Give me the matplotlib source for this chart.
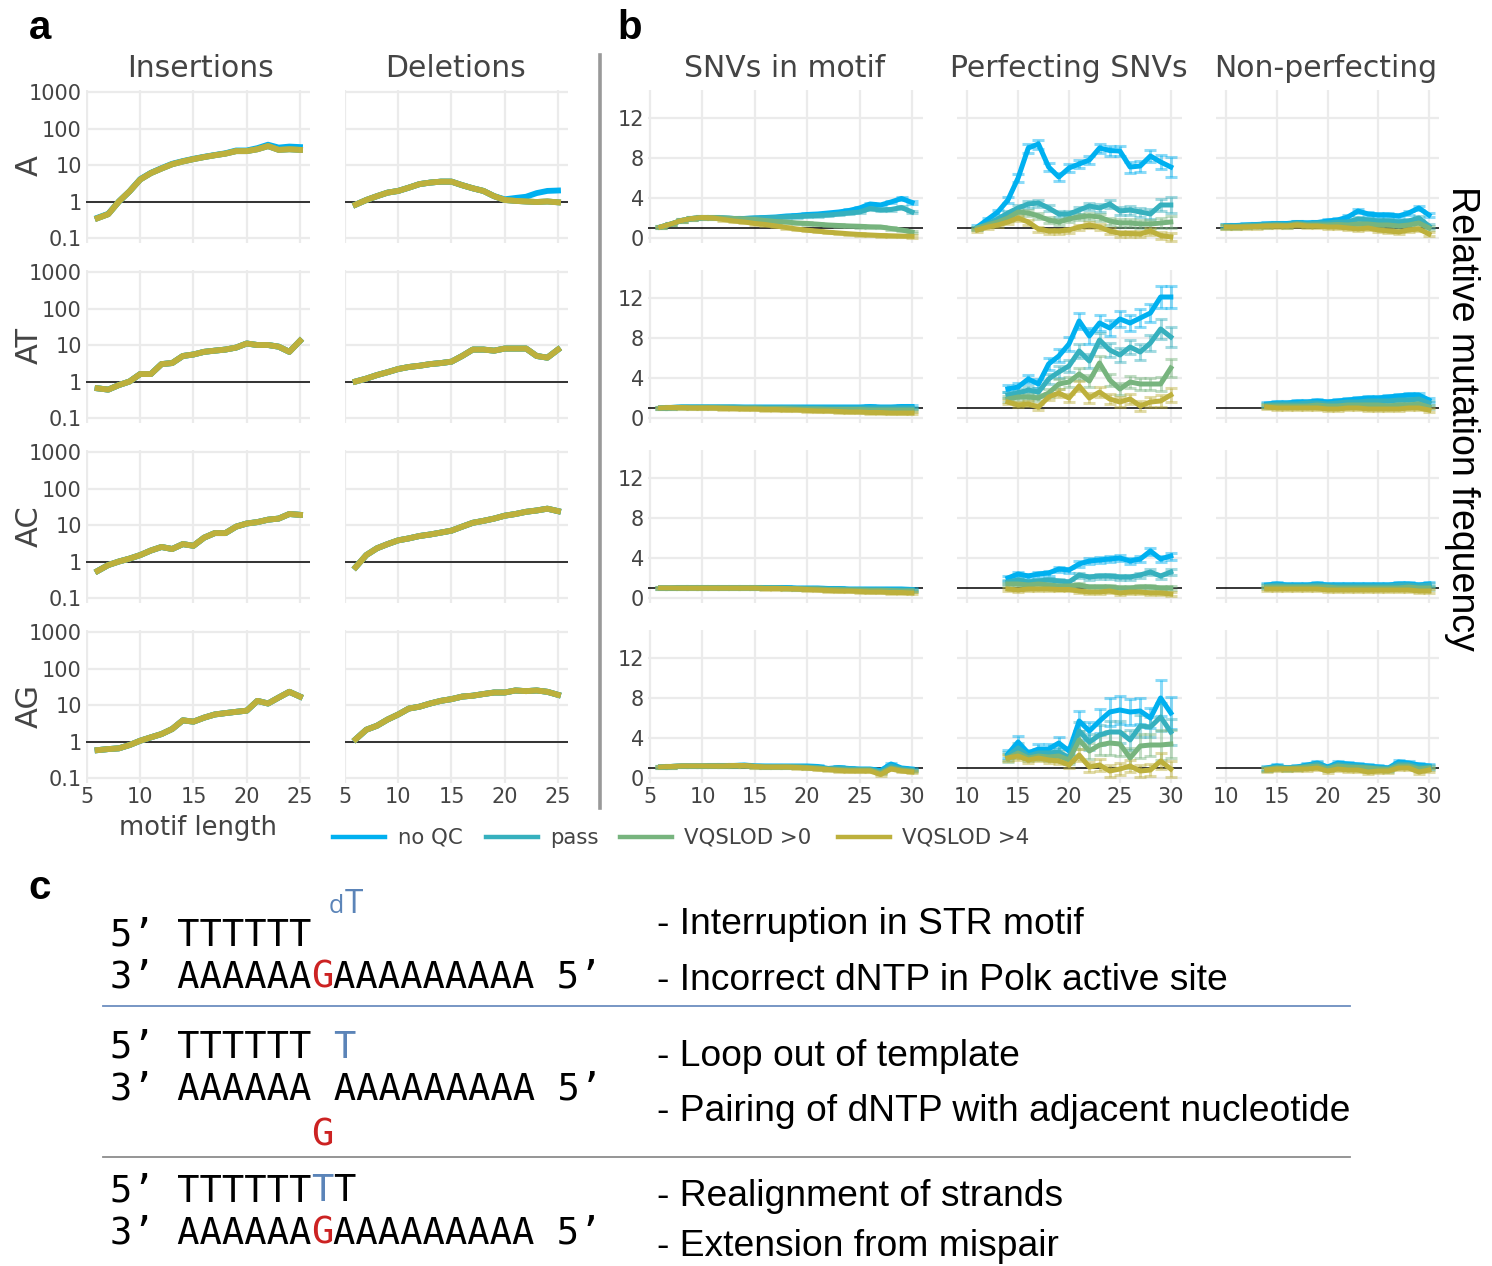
import matplotlib
matplotlib.use("Agg")
import matplotlib.pyplot as plt
from matplotlib.lines import Line2D
from matplotlib.ticker import NullLocator

W, H = 1492, 1266

# ---------------- panel a data (relative frequency, log) ----------------
x_a = list(range(6, 26))
ins_A = [0.35, 0.45, 1.0, 1.9, 4.0, 6.0, 8.0, 10.5, 12.5, 14.5, 16.5, 18.5, 20.5, 24, 24, 27, 33, 26, 27, 26]
ins_A_noqc = [0.36, 0.46, 1.0, 1.9, 4.1, 6.1, 8.2, 10.8, 12.8, 14.8, 16.8, 18.8, 21, 25, 25, 29, 36, 30, 32, 31]
del_A = [0.82, 1.1, 1.4, 1.75, 1.95, 2.4, 3.0, 3.3, 3.5, 3.5, 2.8, 2.3, 1.95, 1.4, 1.1, 1.04, 1.0, 0.97, 1.0, 0.95]
del_A_noqc = [0.82, 1.1, 1.4, 1.75, 1.95, 2.4, 3.0, 3.3, 3.5, 3.5, 2.8, 2.3, 1.95, 1.4, 1.15, 1.25, 1.35, 1.7, 1.95, 2.0]
ins_AT = [0.65, 0.6, 0.8, 1.0, 1.6, 1.6, 3.0, 3.2, 5.0, 5.5, 6.5, 7.0, 7.5, 8.5, 11, 10, 10, 9, 6.5, 13]
del_AT = [1.0, 1.2, 1.5, 1.8, 2.2, 2.5, 2.7, 3.0, 3.2, 3.5, 5.0, 7.5, 7.5, 7.0, 8.0, 8.0, 8.0, 5.0, 4.5, 7.5]
ins_AC = [0.55, 0.8, 1.0, 1.2, 1.5, 2.0, 2.5, 2.2, 3.0, 2.7, 4.5, 6.0, 6.0, 9.0, 11, 12, 14, 15, 20, 19]
del_AC = [0.7, 1.5, 2.3, 3.0, 3.8, 4.3, 5.0, 5.5, 6.2, 7.0, 9.0, 11.5, 13, 15, 18, 20, 23, 25, 28, 24]
ins_AG = [0.58, 0.62, 0.65, 0.8, 1.05, 1.3, 1.6, 2.2, 3.8, 3.5, 4.5, 5.5, 6.0, 6.5, 7.0, 13, 11, 16, 23, 17]
del_AG = [1.15, 2.1, 2.7, 4.0, 5.5, 8.0, 9.0, 11, 13, 14.5, 17, 18, 20, 22, 22, 25, 24, 25, 23, 19]

# ---------------- panel b data ----------------
x_snv = list(range(6, 31))
snv_A_noqc = [1.1, 1.4, 1.75, 1.95, 2.05, 2.05, 2.0, 1.95, 1.95, 2.0, 2.05, 2.1, 2.2, 2.25, 2.35, 2.4, 2.5, 2.6, 2.75, 3.0, 3.4, 3.3, 3.6, 3.95, 3.55]
snv_A_pass = [1.1, 1.4, 1.75, 1.95, 2.05, 2.05, 2.0, 1.95, 1.95, 2.0, 2.0, 2.05, 2.1, 2.15, 2.2, 2.25, 2.3, 2.4, 2.5, 2.6, 2.95, 2.8, 2.85, 3.05, 2.6]
snv_A_vq0 = [1.1, 1.4, 1.75, 1.95, 2.05, 2.05, 2.0, 1.95, 1.9, 1.85, 1.75, 1.65, 1.6, 1.5, 1.45, 1.38, 1.3, 1.25, 1.2, 1.17, 1.12, 1.1, 0.95, 0.8, 0.6]
snv_A_vq4 = [1.1, 1.4, 1.75, 1.95, 2.05, 2.0, 1.85, 1.7, 1.6, 1.45, 1.35, 1.2, 1.05, 0.9, 0.78, 0.68, 0.58, 0.5, 0.42, 0.35, 0.3, 0.25, 0.22, 0.19, 0.17]
snv_AT_noqc = [1.0, 1.05, 1.1, 1.1, 1.1, 1.1, 1.1, 1.1, 1.1, 1.1, 1.1, 1.1, 1.1, 1.1, 1.1, 1.1, 1.1, 1.1, 1.1, 1.1, 1.15, 1.1, 1.1, 1.15, 1.15]
snv_AT_pass = [1.0, 1.05, 1.1, 1.1, 1.1, 1.1, 1.1, 1.1, 1.05, 1.05, 1.05, 1.05, 1.05, 1.05, 1.0, 1.0, 1.0, 1.0, 1.0, 1.0, 1.0, 1.0, 1.0, 1.0, 1.0]
snv_AT_vq0 = [1.0, 1.05, 1.05, 1.05, 1.05, 1.05, 1.05, 1.0, 1.0, 1.0, 0.95, 0.95, 0.95, 0.9, 0.9, 0.9, 0.85, 0.85, 0.85, 0.85, 0.8, 0.8, 0.8, 0.8, 0.8]
snv_AT_vq4 = [1.0, 1.05, 1.05, 1.0, 1.0, 1.0, 0.95, 0.95, 0.9, 0.9, 0.85, 0.85, 0.8, 0.8, 0.75, 0.7, 0.7, 0.65, 0.6, 0.6, 0.55, 0.55, 0.5, 0.5, 0.5]
snv_AC_noqc = [1.0, 1.0, 1.05, 1.05, 1.05, 1.05, 1.05, 1.05, 1.05, 1.05, 1.05, 1.05, 1.05, 1.0, 1.0, 1.0, 0.95, 0.95, 0.9, 0.9, 0.9, 0.9, 0.9, 0.9, 0.85]
snv_AC_pass = [1.0, 1.0, 1.05, 1.05, 1.05, 1.05, 1.05, 1.05, 1.05, 1.05, 1.0, 1.0, 1.0, 0.95, 0.95, 0.95, 0.9, 0.9, 0.85, 0.85, 0.85, 0.85, 0.8, 0.8, 0.8]
snv_AC_vq0 = [1.0, 1.0, 1.0, 1.0, 1.0, 1.0, 1.0, 1.0, 1.0, 1.0, 1.0, 1.0, 0.95, 0.95, 0.9, 0.9, 0.85, 0.85, 0.8, 0.8, 0.75, 0.75, 0.75, 0.7, 0.7]
snv_AC_vq4 = [1.0, 1.0, 1.0, 1.0, 1.0, 1.0, 1.0, 1.0, 1.0, 1.0, 0.95, 0.95, 0.95, 0.9, 0.85, 0.8, 0.75, 0.7, 0.7, 0.65, 0.6, 0.6, 0.55, 0.55, 0.5]
snv_AG_noqc = [1.1, 1.15, 1.2, 1.2, 1.2, 1.25, 1.25, 1.25, 1.3, 1.2, 1.2, 1.2, 1.2, 1.2, 1.2, 1.15, 0.95, 1.05, 0.95, 0.9, 0.9, 0.75, 1.4, 1.0, 0.9]
snv_AG_pass = [1.1, 1.15, 1.2, 1.2, 1.2, 1.25, 1.25, 1.25, 1.25, 1.2, 1.15, 1.15, 1.15, 1.15, 1.1, 1.05, 0.9, 1.0, 0.9, 0.85, 0.85, 0.6, 1.2, 0.9, 0.8]
snv_AG_vq0 = [1.1, 1.15, 1.2, 1.2, 1.2, 1.2, 1.2, 1.25, 1.25, 1.15, 1.1, 1.1, 1.1, 1.1, 1.05, 1.0, 0.9, 0.85, 0.8, 0.8, 0.8, 0.5, 1.0, 0.8, 0.7]
snv_AG_vq4 = [1.1, 1.15, 1.2, 1.2, 1.2, 1.2, 1.2, 1.25, 1.25, 1.15, 1.1, 1.1, 1.1, 1.05, 1.0, 0.9, 0.85, 0.75, 0.7, 0.7, 0.7, 0.35, 0.9, 0.7, 0.6]

x_perf_A = list(range(11, 31))
perf_A_noqc = [1.1, 1.85, 2.6, 3.8, 6.0, 9.0, 9.4, 7.1, 6.1, 7.0, 7.4, 7.8, 9.0, 8.75, 8.7, 7.1, 7.2, 8.2, 7.6, 7.1]
perf_A_pass = [1.0, 1.4, 1.9, 2.5, 3.0, 3.4, 3.5, 3.0, 2.4, 2.4, 2.8, 3.2, 3.0, 3.4, 2.7, 2.8, 2.6, 2.4, 3.3, 3.3]
perf_A_vq0 = [1.0, 1.3, 1.6, 2.0, 2.6, 2.5, 2.2, 1.8, 1.6, 1.9, 2.1, 2.2, 2.1, 1.7, 1.5, 1.5, 1.4, 1.4, 1.5, 1.6]
perf_A_vq4 = [0.8, 1.1, 1.3, 1.6, 2.0, 1.6, 0.9, 0.7, 0.7, 0.8, 1.1, 1.3, 1.1, 0.7, 0.45, 0.45, 0.4, 0.7, 0.25, 0.1]
perf_A_noqc_err = [0.2, 0.2, 0.25, 0.3, 0.4, 0.45, 0.45, 0.4, 0.4, 0.4, 0.4, 0.4, 0.45, 0.5, 0.5, 0.55, 0.55, 0.6, 0.7, 1.0]
perf_A_pass_err = [0.15, 0.2, 0.2, 0.25, 0.3, 0.35, 0.35, 0.3, 0.3, 0.3, 0.35, 0.35, 0.4, 0.4, 0.4, 0.45, 0.45, 0.5, 0.6, 0.8]
perf_A_vq0_err = [0.15, 0.2, 0.2, 0.25, 0.3, 0.3, 0.3, 0.3, 0.3, 0.3, 0.3, 0.35, 0.35, 0.35, 0.4, 0.4, 0.4, 0.45, 0.5, 0.6]
perf_A_vq4_err = [0.15, 0.15, 0.2, 0.2, 0.25, 0.25, 0.25, 0.25, 0.25, 0.25, 0.25, 0.3, 0.3, 0.3, 0.3, 0.3, 0.3, 0.35, 0.35, 0.4]

x_perf = list(range(14, 31))
perf_AT_noqc = [2.9, 3.1, 3.9, 3.4, 5.4, 6.2, 7.4, 9.7, 8.2, 9.5, 9.0, 9.9, 9.5, 10.0, 10.5, 12.1, 12.1]
perf_AT_pass = [2.3, 2.5, 2.8, 2.6, 3.9, 4.6, 5.2, 6.7, 5.7, 7.8, 6.8, 6.3, 7.1, 6.6, 7.5, 8.9, 8.1]
perf_AT_vq0 = [1.9, 2.1, 2.1, 2.0, 2.5, 3.4, 3.6, 4.4, 3.7, 5.5, 3.8, 2.9, 3.6, 3.4, 3.4, 3.4, 5.0]
perf_AT_vq4 = [1.6, 1.3, 1.4, 1.1, 2.1, 2.5, 2.0, 3.2, 2.0, 2.6, 1.9, 1.6, 1.9, 1.2, 1.6, 1.7, 2.3]
perf_AT_noqc_err = [0.35, 0.4, 0.4, 0.45, 0.6, 0.65, 0.7, 0.8, 0.8, 0.8, 0.8, 0.8, 0.8, 0.9, 0.9, 1.1, 1.1]
perf_AT_pass_err = [0.3, 0.35, 0.35, 0.4, 0.5, 0.6, 0.6, 0.7, 0.7, 0.7, 0.7, 0.7, 0.7, 0.8, 0.8, 1.0, 1.0]
perf_AT_vq0_err = [0.3, 0.3, 0.3, 0.35, 0.4, 0.5, 0.5, 0.6, 0.6, 0.7, 0.6, 0.6, 0.6, 0.6, 0.6, 0.7, 0.9]
perf_AT_vq4_err = [0.25, 0.25, 0.25, 0.3, 0.35, 0.4, 0.4, 0.5, 0.5, 0.5, 0.5, 0.5, 0.5, 0.5, 0.5, 0.6, 0.7]

perf_AC_noqc = [2.0, 2.4, 2.2, 2.4, 2.5, 2.9, 2.8, 3.4, 3.7, 3.8, 3.9, 4.0, 3.7, 3.9, 4.7, 3.9, 4.2]
perf_AC_pass = [1.6, 1.8, 1.6, 1.7, 1.8, 1.7, 1.6, 2.3, 2.1, 2.2, 2.2, 2.1, 2.1, 2.3, 2.6, 2.2, 2.6]
perf_AC_vq0 = [1.4, 1.4, 1.3, 1.4, 1.3, 1.2, 1.2, 1.3, 1.1, 1.1, 1.1, 1.0, 1.0, 1.1, 1.1, 1.0, 1.0]
perf_AC_vq4 = [0.9, 0.8, 0.9, 0.9, 0.9, 0.85, 0.85, 0.7, 0.6, 0.6, 0.7, 0.5, 0.6, 0.6, 0.5, 0.5, 0.4]
perf_AC_noqc_err = [0.25, 0.25, 0.25, 0.25, 0.25, 0.25, 0.25, 0.3, 0.3, 0.3, 0.3, 0.3, 0.3, 0.3, 0.35, 0.3, 0.35]
perf_AC_pass_err = [0.2, 0.2, 0.2, 0.2, 0.2, 0.2, 0.2, 0.25, 0.25, 0.25, 0.25, 0.25, 0.25, 0.25, 0.3, 0.25, 0.3]
perf_AC_vq0_err = [0.15, 0.15, 0.15, 0.15, 0.15, 0.15, 0.15, 0.2, 0.2, 0.2, 0.2, 0.2, 0.2, 0.2, 0.2, 0.2, 0.2]
perf_AC_vq4_err = [0.15, 0.15, 0.15, 0.15, 0.15, 0.15, 0.15, 0.15, 0.15, 0.15, 0.15, 0.15, 0.15, 0.15, 0.2, 0.2, 0.2]

perf_AG_noqc = [2.4, 3.6, 2.5, 2.9, 2.9, 3.5, 2.7, 5.7, 4.7, 5.7, 6.6, 6.8, 6.6, 6.7, 6.0, 8.0, 6.5]
perf_AG_pass = [2.2, 3.0, 2.2, 2.5, 2.5, 2.6, 2.0, 4.7, 3.6, 4.3, 4.6, 4.6, 3.8, 5.2, 5.1, 6.1, 4.6]
perf_AG_vq0 = [2.0, 2.5, 2.0, 2.2, 2.1, 2.2, 1.8, 3.8, 2.7, 3.3, 3.5, 3.4, 2.0, 3.2, 3.3, 3.3, 3.4]
perf_AG_vq4 = [2.0, 2.2, 1.8, 2.0, 1.8, 1.7, 1.3, 2.3, 1.1, 1.3, 0.7, 0.9, 1.2, 0.7, 0.8, 1.7, 0.9]
perf_AG_noqc_err = [0.4, 0.6, 0.3, 0.5, 0.5, 0.6, 0.4, 1.0, 0.9, 1.2, 1.4, 1.4, 1.3, 1.3, 1.0, 1.8, 1.6]
perf_AG_pass_err = [0.4, 0.5, 0.3, 0.4, 0.4, 0.5, 0.4, 0.9, 0.8, 1.0, 1.1, 1.1, 1.0, 1.1, 1.0, 1.4, 1.3]
perf_AG_vq0_err = [0.4, 0.5, 0.3, 0.4, 0.4, 0.5, 0.4, 0.9, 0.8, 1.0, 1.2, 1.2, 1.0, 1.2, 1.1, 1.5, 1.4]
perf_AG_vq4_err = [0.3, 0.4, 0.3, 0.3, 0.3, 0.3, 0.3, 0.6, 0.5, 0.6, 0.6, 0.6, 0.6, 0.6, 0.6, 0.8, 0.8]

x_non_A = list(range(10, 31))
non_A_noqc = [1.2, 1.25, 1.3, 1.35, 1.4, 1.45, 1.45, 1.55, 1.5, 1.55, 1.7, 1.8, 2.1, 2.7, 2.4, 2.3, 2.3, 2.2, 2.5, 3.0, 2.3]
non_A_pass = [1.2, 1.2, 1.25, 1.3, 1.35, 1.4, 1.35, 1.5, 1.4, 1.5, 1.5, 1.6, 1.6, 1.9, 1.8, 1.7, 1.7, 1.6, 1.7, 2.0, 1.2]
non_A_vq0 = [1.1, 1.1, 1.2, 1.2, 1.25, 1.3, 1.25, 1.4, 1.3, 1.3, 1.3, 1.35, 1.3, 1.4, 1.4, 1.3, 1.3, 1.2, 1.3, 1.5, 1.0]
non_A_vq4 = [1.1, 1.1, 1.1, 1.15, 1.2, 1.2, 1.2, 1.3, 1.2, 1.2, 1.1, 1.1, 1.0, 0.9, 1.0, 0.8, 0.7, 0.6, 0.8, 0.9, 0.4]
non_AT_noqc = [1.4, 1.5, 1.5, 1.6, 1.6, 1.7, 1.6, 1.7, 1.8, 1.9, 2.0, 2.0, 2.1, 2.2, 2.3, 2.3, 1.8]
non_AT_pass = [1.3, 1.4, 1.4, 1.4, 1.5, 1.5, 1.4, 1.5, 1.6, 1.6, 1.7, 1.7, 1.7, 1.8, 1.8, 1.9, 1.5]
non_AT_vq0 = [1.2, 1.2, 1.2, 1.2, 1.2, 1.3, 1.2, 1.2, 1.3, 1.3, 1.3, 1.3, 1.2, 1.3, 1.3, 1.4, 1.1]
non_AT_vq4 = [1.1, 1.0, 1.0, 1.0, 1.0, 1.0, 0.9, 0.9, 1.0, 1.0, 0.9, 0.9, 0.9, 0.9, 1.0, 1.0, 0.8]
non_AC_noqc = [1.3, 1.4, 1.3, 1.3, 1.3, 1.4, 1.3, 1.3, 1.3, 1.3, 1.3, 1.3, 1.3, 1.4, 1.4, 1.3, 1.4]
non_AC_pass = [1.2, 1.3, 1.2, 1.2, 1.2, 1.3, 1.2, 1.2, 1.2, 1.2, 1.2, 1.2, 1.2, 1.3, 1.3, 1.2, 1.3]
non_AC_vq0 = [1.1, 1.1, 1.1, 1.1, 1.1, 1.1, 1.1, 1.0, 1.0, 1.0, 1.0, 1.0, 1.0, 1.0, 1.1, 1.0, 1.0]
non_AC_vq4 = [0.9, 0.9, 0.9, 0.9, 0.9, 0.9, 0.8, 0.8, 0.8, 0.8, 0.8, 0.8, 0.8, 0.8, 0.8, 0.7, 0.7]
non_AG_noqc = [1.0, 1.2, 1.0, 1.1, 1.3, 1.5, 1.1, 1.5, 1.4, 1.3, 1.2, 1.1, 1.0, 1.6, 1.5, 1.3, 1.2]
non_AG_pass = [0.95, 1.1, 1.0, 1.05, 1.2, 1.4, 1.0, 1.35, 1.25, 1.2, 1.1, 1.0, 0.95, 1.4, 1.35, 1.1, 1.1]
non_AG_vq0 = [0.9, 1.0, 0.95, 1.0, 1.1, 1.2, 0.9, 1.2, 1.1, 1.05, 1.0, 0.9, 0.85, 1.2, 1.2, 0.9, 1.0]
non_AG_vq4 = [0.8, 0.9, 0.9, 0.9, 0.9, 1.0, 0.7, 0.9, 0.8, 0.8, 0.6, 0.7, 0.7, 1.0, 1.0, 0.6, 0.8]

series_names = ["no QC", "pass", "VQSLOD >0", "VQSLOD >4"]
colors = ["#00B0F0", "#36B0BE", "#77B47E", "#BDB03C"]
row_labels = ["A", "AT", "AC", "AG"]

FONT = "DejaVu Sans"
GRID = "#ebebeb"
TXT = "#444444"

fig = plt.figure(figsize=(W / 100, H / 100), dpi=100)


def add_ax(x0, x1, y0, y1):
    return fig.add_axes([x0 / W, 1 - y1 / H, (x1 - x0) / W, (y1 - y0) / H])


def style(ax, xlim, ylim, xt, yt, show_x, show_y, log=False):
    for s in ax.spines.values():
        s.set_visible(False)
    if log:
        ax.set_yscale("log")
        ax.yaxis.set_minor_locator(NullLocator())
    ax.set_xlim(*xlim)
    ax.set_ylim(*ylim)
    ax.set_xticks(xt)
    ax.set_yticks(yt)
    ax.set_xticklabels([str(v) for v in xt] if show_x else [])
    ax.set_yticklabels([("%g" % v) for v in yt] if show_y else [])
    ax.grid(True, color=GRID, lw=1.6)
    ax.set_axisbelow(True)
    ax.tick_params(length=0, labelsize=15, labelcolor=TXT, pad=3)
    for lab in ax.get_xticklabels() + ax.get_yticklabels():
        lab.set_family(FONT)
    ax.axhline(1, color="black", lw=1.1, zorder=2)


row_top = [90, 270, 450, 630]
row_h = 153

# ---------------- panel a ----------------
a_cols = [(86, 310), (345, 568)]
a_xlim = [(4.91, 25.94), (5.0, 25.94)]
log_lim = (10 ** -1.137, 10 ** 3.055)
ins_rows = [(ins_A, ins_A_noqc), (ins_AT, ins_AT), (ins_AC, ins_AC), (ins_AG, ins_AG)]
del_rows = [(del_A, del_A_noqc), (del_AT, del_AT), (del_AC, del_AC), (del_AG, del_AG)]

for r in range(4):
    for c in range(2):
        ax = add_ax(a_cols[c][0], a_cols[c][1], row_top[r], row_top[r] + row_h)
        style(ax, a_xlim[c], log_lim, [5, 10, 15, 20, 25], [0.1, 1, 10, 100, 1000],
              r == 3, c == 0, log=True)
        vals, vals_noqc = (ins_rows if c == 0 else del_rows)[r]
        for k in range(4):
            y = vals_noqc if k == 0 else vals
            ax.plot(x_a, y, color=colors[k], lw=4.2, solid_joinstyle="round",
                    solid_capstyle="projecting", zorder=3 + k)

# ---------------- panel b ----------------
b_cols = [(648, 923), (957, 1182), (1216, 1439)]
b_xlim = [(4.8, 31.05), (9.0, 31.1), (9.0, 30.99)]
b_xt = [[5, 10, 15, 20, 25, 30], [10, 15, 20, 25, 30], [10, 15, 20, 25, 30]]
lin_lim = (-0.5, 14.8)

snv_rows = [
    [snv_A_noqc, snv_A_pass, snv_A_vq0, snv_A_vq4],
    [snv_AT_noqc, snv_AT_pass, snv_AT_vq0, snv_AT_vq4],
    [snv_AC_noqc, snv_AC_pass, snv_AC_vq0, snv_AC_vq4],
    [snv_AG_noqc, snv_AG_pass, snv_AG_vq0, snv_AG_vq4],
]
perf_rows = [
    (x_perf_A, [perf_A_noqc, perf_A_pass, perf_A_vq0, perf_A_vq4],
     [perf_A_noqc_err, perf_A_pass_err, perf_A_vq0_err, perf_A_vq4_err]),
    (x_perf, [perf_AT_noqc, perf_AT_pass, perf_AT_vq0, perf_AT_vq4],
     [perf_AT_noqc_err, perf_AT_pass_err, perf_AT_vq0_err, perf_AT_vq4_err]),
    (x_perf, [perf_AC_noqc, perf_AC_pass, perf_AC_vq0, perf_AC_vq4],
     [perf_AC_noqc_err, perf_AC_pass_err, perf_AC_vq0_err, perf_AC_vq4_err]),
    (x_perf, [perf_AG_noqc, perf_AG_pass, perf_AG_vq0, perf_AG_vq4],
     [perf_AG_noqc_err, perf_AG_pass_err, perf_AG_vq0_err, perf_AG_vq4_err]),
]
non_rows = [
    (x_non_A, [non_A_noqc, non_A_pass, non_A_vq0, non_A_vq4]),
    (x_perf, [non_AT_noqc, non_AT_pass, non_AT_vq0, non_AT_vq4]),
    (x_perf, [non_AC_noqc, non_AC_pass, non_AC_vq0, non_AC_vq4]),
    (x_perf, [non_AG_noqc, non_AG_pass, non_AG_vq0, non_AG_vq4]),
]


def draw_series(ax, x, ys, errs):
    for k in range(4):
        ax.errorbar(x, ys[k], yerr=errs[k], fmt="none", ecolor=colors[k], elinewidth=2.2,
                    capsize=4.5, capthick=2.2, alpha=0.45, zorder=3 + k)
        ax.plot(x, ys[k], color=colors[k], lw=3.6, solid_joinstyle="round", zorder=7 + k)


for r in range(4):
    for c in range(3):
        ax = add_ax(b_cols[c][0], b_cols[c][1], row_top[r], row_top[r] + row_h)
        style(ax, b_xlim[c], lin_lim, b_xt[c], [0, 4, 8, 12], r == 3, c == 0)
        if c == 0:
            draw_series(ax, x_snv, snv_rows[r], [0.12] * 4)
        elif c == 1:
            x, ys, es = perf_rows[r]
            draw_series(ax, x, ys, es)
        else:
            x, ys = non_rows[r]
            draw_series(ax, x, ys, [0.2] * 4)

# ---------------- titles and labels ----------------
col_titles = [("Insertions", 200), ("Deletions", 456), ("SNVs in motif", 785),
              ("Perfecting SNVs", 1069), ("Non-perfecting", 1326)]
for t, xc in col_titles:
    fig.text(xc / W, 1 - 77 / H, t, ha="center", va="baseline", fontsize=21.5,
             color=TXT, family=FONT)

row_centers = [166, 346, 526, 706]
for lab, yc in zip(row_labels, row_centers):
    fig.text(29 / W, 1 - yc / H, lab, ha="center", va="center", rotation=90,
             fontsize=22, color=TXT, family=FONT)

fig.text(198 / W, 1 - 828 / H, "motif length", ha="center", va="center",
         fontsize=18.5, color=TXT, family=FONT)

fig.text(1462 / W, 1 - 418 / H, "Relative mutation frequency", ha="center",
         va="center", rotation=-90, fontsize=27, color="black",
         family="Liberation Sans")

for lab, x, y in [("a", 40, 28), ("b", 630, 28), ("c", 40, 888)]:
    fig.text(x / W, 1 - y / H, lab, ha="center", va="center", fontsize=29,
             fontweight="bold", color="black", family="Liberation Sans")

# separator between a and b
fig.add_artist(Line2D([600 / W, 600 / W], [1 - 55 / H, 1 - 808 / H],
                      color="#999999", lw=2.6, transform=fig.transFigure))

# legend
leg_items = [(333, 398), (486, 550), (620, 684), (838, 902)]
for k, (lx, tx) in enumerate(leg_items):
    fig.add_artist(Line2D([lx / W, (lx + 52) / W], [1 - 837 / H, 1 - 837 / H],
                          color=colors[k], lw=3.2, transform=fig.transFigure))
    fig.text(tx / W, 1 - 838 / H, series_names[k], ha="left", va="center",
             fontsize=15.3, color=TXT, family=FONT)

# ---------------- panel c ----------------
MONO = "DejaVu Sans Mono"
MS = 26.7
cw = 0.60205 * MS * 100 / 72
x0 = 110
blue = "#5B84B8"
red = "#CC2222"


def mono(s, y, col="black", idx=0):
    fig.text((x0 + idx * cw) / W, 1 - y / H, s, ha="left", va="baseline",
             fontsize=MS, family=MONO, color=col)


mono("5’ TTTTTT", 945)
fig.text(329 / W, 1 - 913 / H, "d", ha="left", va="baseline", fontsize=18,
         color=blue, family="Open Sans")
fig.text(345 / W, 1 - 913 / H, "T", ha="left", va="baseline", fontsize=24,
         color=blue, family="Open Sans")
mono("3’ AAAAAA", 988)
mono("G", 988, red, 9)
mono("AAAAAAAAA 5’", 988, idx=10)

mono("5’ TTTTTT", 1058)
mono("T", 1058, blue, 10)
mono("3’ AAAAAA AAAAAAAAA 5’", 1100)
mono("G", 1145, red, 9)

mono("5’ TTTTTT", 1201)
mono("T", 1201, blue, 9)
mono("T", 1201, idx=10)
mono("3’ AAAAAA", 1244)
mono("G", 1244, red, 9)
mono("AAAAAAAAA 5’", 1244, idx=10)

right_txt = [("- Interruption in STR motif", 934), ("- Incorrect dNTP in Polκ active site", 990),
             ("- Loop out of template", 1066), ("- Pairing of dNTP with adjacent nucleotide", 1121),
             ("- Realignment of strands", 1206), ("- Extension from mispair", 1256)]
for s, y in right_txt:
    fig.text(657 / W, 1 - y / H, s, ha="left", va="baseline", fontsize=26.8,
             color="black", family="Liberation Sans")

fig.add_artist(Line2D([103 / W, 1350 / W], [1 - 1006 / H, 1 - 1006 / H],
                      color="#6C8EBF", lw=1.3, transform=fig.transFigure))
fig.add_artist(Line2D([103 / W, 1350 / W], [1 - 1157 / H, 1 - 1157 / H],
                      color="#8C8C8C", lw=1.3, transform=fig.transFigure))

fig.savefig("out.png", dpi=100)
